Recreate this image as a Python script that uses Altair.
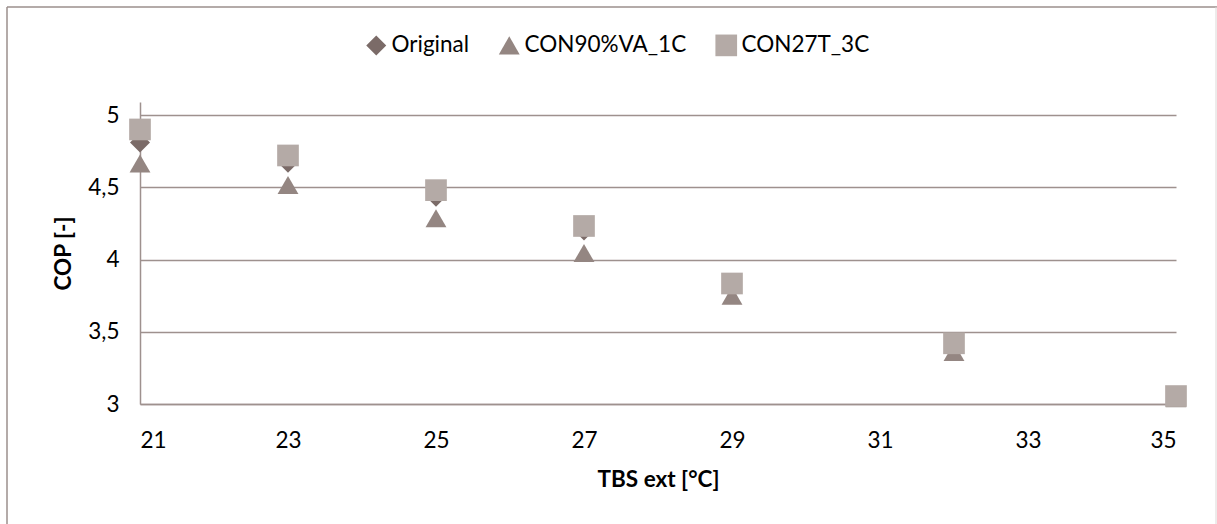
import altair as alt
import pandas as pd

# ---- data ----
tbs_ext = [21, 23, 25, 27, 29, 32, 35]
cop_original = [4.81, 4.67, 4.435, 4.20, 3.80, 3.39, 3.05]
cop_con90 = [4.665, 4.515, 4.285, 4.045, 3.75, 3.36, 3.04]
cop_con27 = [4.90, 4.72, 4.48, 4.232, 3.834, 3.42, 3.055]

series_names = ["Original", "CON90%VA_1C", "CON27T_3C"]
series_colors = ["#7b6b68", "#948682", "#b4aaa6"]
series_shapes = ["diamond", "triangle-up", "square"]
series_sizes = [400, 470, 410]

x_ticks = [21, 23, 25, 27, 29, 31, 33, 35]
y_ticks = [3, 3.5, 4, 4.5, 5]

rows = []
for name, vals in zip(series_names, [cop_original, cop_con90, cop_con27]):
    for xv, yv in zip(tbs_ext, vals):
        rows.append({"tbs": xv, "cop": yv, "series": name})
df = pd.DataFrame(rows)

LINE = "#9e918e"
FONT = "Lato"

legend = alt.Legend(
    orient="none", legendX=225, legendY=-68, direction="horizontal",
    title=None, symbolSize=256, labelFontSize=22.5, labelFont=FONT,
    labelColor="#000000", labelOffset=4, columnPadding=28, padding=0,
    labelLimit=400, symbolOpacity=1, symbolStrokeWidth=0,
)

points = alt.Chart(df).mark_point(filled=True, opacity=1).encode(
    x=alt.X("tbs:Q",
            scale=alt.Scale(domain=[21, 35], nice=False, zero=False),
            axis=alt.Axis(values=x_ticks, title="TBS ext [°C]", grid=False,
                          ticks=False, domainColor=LINE, domainWidth=1.5,
                          labelFontSize=22.5, labelPadding=25, labelColor="#000000",
                          titleFontSize=22.5, titleFontWeight="bold", titlePadding=17,
                          titleColor="#000000")),
    y=alt.Y("cop:Q",
            scale=alt.Scale(domain=[3, 5.09], nice=False, zero=False),
            axis=alt.Axis(values=y_ticks, title="COP [-]", grid=True,
                          gridColor=LINE, gridWidth=1.5, ticks=False,
                          domainColor=LINE, domainWidth=1.5,
                          labelExpr="replace(toString(datum.value), '.', ',')",
                          labelFontSize=22.5, labelPadding=21, labelColor="#000000",
                          titleFontSize=22.5, titleFontWeight="bold", titlePadding=12,
                          titleColor="#000000")),
    color=alt.Color("series:N", scale=alt.Scale(domain=series_names, range=series_colors),
                    legend=legend),
    shape=alt.Shape("series:N", scale=alt.Scale(domain=series_names, range=series_shapes),
                    legend=legend),
    size=alt.Size("series:N", scale=alt.Scale(domain=series_names, range=series_sizes),
                  legend=None),
)

frame_data = alt.Data(values=[{}])
top_border = alt.Chart(frame_data).mark_rule(color="#9b8f8c", strokeWidth=1.5).encode(
    x=alt.value(-133), x2=alt.value(1077), y=alt.value(-95))
left_border = alt.Chart(frame_data).mark_rule(color="#9b8f8c", strokeWidth=1.5).encode(
    x=alt.value(-133), y=alt.value(-95), y2=alt.value(422))
right_border = alt.Chart(frame_data).mark_rule(color="#dcd7d6", strokeWidth=1).encode(
    x=alt.value(1076), y=alt.value(-95), y2=alt.value(422))

chart = alt.layer(points, top_border, left_border, right_border).properties(
    width=1036, height=302,
    autosize=alt.AutoSizeParams(type="none"),
    padding={"left": 140, "top": 102, "right": 41, "bottom": 120},
    background="white",
).configure(font=FONT).configure_view(stroke="transparent", strokeOpacity=0, strokeWidth=0)

chart.save("out.html", embed_options={"renderer": "svg", "actions": False})
